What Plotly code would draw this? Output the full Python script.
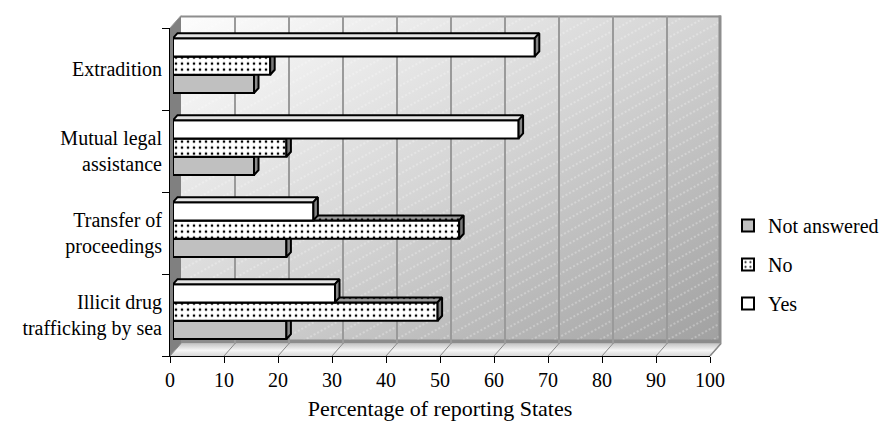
import base64
import plotly.graph_objects as go

# ---------------- data ----------------
categories = ["Extradition", "Mutual legal assistance",
              "Transfer of proceedings", "Illicit drug trafficking by sea"]
tick_labels = ["Extradition", "Mutual legal<br>assistance",
               "Transfer of<br>proceedings", "Illicit drug<br>trafficking by sea"]
not_answered = [15, 15, 21, 21]
no = [18, 21, 53, 49]
yes = [67, 64, 26, 30]
series_names = ["Not answered", "No", "Yes"]
x_ticks = list(range(0, 101, 10))
x_title = "Percentage of reporting States"

# ---------------- geometry (pixels) ----------------
W, H = 885, 424
FONT = "Liberation Serif, Times New Roman, serif"


def px(x):
    return x / W


def py(y):
    return 1 - y / H


FRONT_X = (170, 710)
FRONT_Y = (28, 356)
BACK_DX, BACK_DY = 11, -12.5
BAR_DX, BAR_DY = 3, -3.4
n = len(categories)
band_px = (FRONT_Y[1] - FRONT_Y[0]) / n
unit_px = (FRONT_X[1] - FRONT_X[0]) / 100.0

# bar depth (3D top/side faces) in data units
DEPTH_X = 4.5 / unit_px
DEPTH_Y = 5.0 / band_px
BAR_W = 18.3 / band_px

pos = [n - 1 - i for i in range(n)]  # numeric positions (bottom = 0)

# ---------------- background decoration (walls / floor) ----------------
bx0, by0 = FRONT_X[0] + BACK_DX, FRONT_Y[0] + BACK_DY
bx1, by1 = FRONT_X[1] + BACK_DX, FRONT_Y[1] + BACK_DY
fl_lines = ""
for t in x_ticks:
    xf = FRONT_X[0] + t * unit_px
    fl_lines += (f'<line x1="{xf:.1f}" y1="{FRONT_Y[1]}" x2="{xf + BACK_DX:.1f}" '
                 f'y2="{by1}" stroke="#8a8a8a" stroke-width="1"/>')
svg = f'''<svg xmlns="http://www.w3.org/2000/svg" width="{W}" height="{H}" viewBox="0 0 {W} {H}">
<defs>
<linearGradient id="wall" x1="0" y1="0" x2="1" y2="1">
<stop offset="0" stop-color="#fdfdfd"/><stop offset="0.5" stop-color="#d4d4d4"/><stop offset="1" stop-color="#a0a0a0"/>
</linearGradient>
<linearGradient id="floor" x1="0" y1="0" x2="0" y2="1">
<stop offset="0" stop-color="#c4c4c4"/><stop offset="0.55" stop-color="#f6f6f6"/><stop offset="1" stop-color="#d8d8d8"/>
</linearGradient>
<pattern id="hatch" width="12" height="11" patternUnits="userSpaceOnUse" patternTransform="rotate(-29)">
<line x1="0" y1="5" x2="12" y2="5" stroke="#ffffff" stroke-width="1" stroke-dasharray="2,2" stroke-opacity="0.55"/>
</pattern>
</defs>
<rect x="{bx0}" y="{by0}" width="{bx1 - bx0}" height="{by1 - by0}" fill="url(#wall)"/>
<rect x="{bx0}" y="{by0}" width="{bx1 - bx0}" height="{by1 - by0}" fill="url(#hatch)"/>
<rect x="{bx0}" y="{by1 - 4}" width="{bx1 - bx0}" height="4" fill="#8c8c8c"/>
<line x1="{bx0}" y1="{by0 + 1}" x2="{bx1}" y2="{by0 + 1}" stroke="#8e8e8e" stroke-width="2"/>
<line x1="{bx1 - 1}" y1="{by0}" x2="{bx1 - 1}" y2="{by1}" stroke="#8e8e8e" stroke-width="3"/>
<polygon points="{FRONT_X[0]},{FRONT_Y[0]} {bx0},{by0} {bx0},{by1} {FRONT_X[0]},{FRONT_Y[1]}" fill="#808080"/>
<polygon points="{FRONT_X[0]},{FRONT_Y[1]} {bx0},{by1} {bx1},{by1} {FRONT_X[1]},{FRONT_Y[1]}" fill="url(#floor)"/>
{fl_lines}
<line x1="{FRONT_X[1]}" y1="{FRONT_Y[1]}" x2="{bx1}" y2="{by1}" stroke="#8a8a8a" stroke-width="1.5"/>
<line x1="{FRONT_X[0]}" y1="{FRONT_Y[0]}" x2="{bx0}" y2="{by0}" stroke="#9a9a9a" stroke-width="1"/>
</svg>'''
svg_uri = "data:image/svg+xml;base64," + base64.b64encode(svg.encode()).decode()

fig = go.Figure()

# front axes (category labels and value ticks)
fig.add_trace(go.Scatter(x=[None] * n, y=tick_labels, mode="markers",
                         showlegend=False, hoverinfo="skip", xaxis="x", yaxis="y"))
# back wall grid axes
fig.add_trace(go.Scatter(x=[None], y=[None], mode="markers", showlegend=False,
                         hoverinfo="skip", xaxis="x2", yaxis="y2"))

styles = {
    "Not answered": dict(front="#c0c0c0", top="#b4b4b4", side="#8a8a8a", pattern=None),
    "No": dict(front="#ffffff", top="#9a9a9a", side="#7a7a7a", pattern="."),
    "Yes": dict(front="#ffffff", top="#e4e4e4", side="#858585", pattern=None),
}
series_vals = [not_answered, no, yes]
offsets = [-1.5 * BAR_W, -0.5 * BAR_W, 0.5 * BAR_W]
axis_ids = [("x3", "y3"), ("x4", "y4"), ("x5", "y5")]

for name, vals, off, (xa, ya) in zip(series_names, series_vals, offsets, axis_ids):
    st = styles[name]
    tx, ty, sx, sy = [], [], [], []
    for v, p in zip(vals, pos):
        yb, yt = p + off, p + off + BAR_W
        tx += [0, v, v + DEPTH_X, DEPTH_X, 0, None]
        ty += [yt, yt, yt + DEPTH_Y, yt + DEPTH_Y, yt, None]
        sx += [v, v + DEPTH_X, v + DEPTH_X, v, v, None]
        sy += [yb, yb + DEPTH_Y, yt + DEPTH_Y, yt, yb, None]
    face_pattern = dict(shape=".", fgcolor="#000000", bgcolor=st["top"], size=6,
                        solidity=0.15) if st["pattern"] else None
    fig.add_trace(go.Scatter(x=tx, y=ty, mode="lines", fill="toself",
                             fillcolor=st["top"], fillpattern=face_pattern,
                             line=dict(color="black", width=2), showlegend=False,
                             hoverinfo="skip", xaxis=xa, yaxis=ya))
    fig.add_trace(go.Scatter(x=sx, y=sy, mode="lines", fill="toself",
                             fillcolor=st["side"],
                             line=dict(color="black", width=2), showlegend=False,
                             hoverinfo="skip", xaxis=xa, yaxis=ya))
    marker = dict(color=st["front"], line=dict(color="black", width=2))
    if st["pattern"]:
        marker["pattern"] = dict(shape=".", fgcolor="#000000", bgcolor="#ffffff",
                                 size=6, solidity=0.15)
    fig.add_trace(go.Bar(x=vals, y=pos, orientation="h", width=BAR_W, offset=off,
                         marker=marker, name=name, legendgroup=name,
                         xaxis=xa, yaxis=ya,
                         hovertemplate=name + ": %{x}<extra></extra>"))

bar_xdom = [px(FRONT_X[0] + BAR_DX), px(FRONT_X[1] + BAR_DX)]
bar_ydom = [py(FRONT_Y[1] + BAR_DY), py(FRONT_Y[0] + BAR_DY)]
hidden = dict(visible=False, fixedrange=True)

fig.update_layout(
    width=W, height=H,
    margin=dict(l=0, r=0, t=0, b=0),
    template="none",
    paper_bgcolor="white",
    plot_bgcolor="rgba(0,0,0,0)",
    barmode="overlay",
    font=dict(family=FONT, size=20, color="black"),
    images=[dict(source=svg_uri, xref="paper", yref="paper", x=0, y=1,
                 sizex=1, sizey=1, xanchor="left", yanchor="top",
                 sizing="stretch", layer="below")],
    xaxis=dict(domain=[px(FRONT_X[0]), px(FRONT_X[1])], range=[0, 100],
               tickvals=x_ticks, ticks="outside", ticklen=6, tickwidth=1,
               tickcolor="black", showline=True, linecolor="black", linewidth=1,
               showgrid=False, zeroline=False, anchor="y", automargin=False,
               tickfont=dict(family=FONT, size=20),
               title=dict(text=x_title, font=dict(family=FONT, size=22), standoff=10)),
    yaxis=dict(domain=[py(FRONT_Y[1]), py(FRONT_Y[0])], type="category",
               categoryorder="array", categoryarray=tick_labels[::-1],
               range=[-0.5, n - 0.5], tickson="boundaries", ticks="outside",
               ticklen=7, tickcolor="black", showline=True, linecolor="black",
               linewidth=1, showgrid=False, zeroline=False, anchor="x",
               automargin=False, ticklabelstandoff=3,
               tickfont=dict(family=FONT, size=20)),
    xaxis2=dict(domain=[px(bx0), px(bx1)], range=[0, 100], tickvals=x_ticks,
                showgrid=True, gridcolor="#9a9a9a", gridwidth=2, zeroline=False,
                showticklabels=False, ticks="", showline=False, anchor="y2",
                fixedrange=True),
    yaxis2=dict(domain=[py(by1), py(by0)], range=[0, 1], showgrid=False,
                zeroline=False, showticklabels=False, ticks="", showline=False,
                anchor="x2", fixedrange=True),
    xaxis3=dict(domain=bar_xdom, range=[0, 100], anchor="y3", **hidden),
    yaxis3=dict(domain=bar_ydom, range=[-0.5, n - 0.5], anchor="x3", **hidden),
    xaxis4=dict(range=[0, 100], overlaying="x3", anchor="y4", **hidden),
    yaxis4=dict(range=[-0.5, n - 0.5], overlaying="y3", anchor="x4", **hidden),
    xaxis5=dict(range=[0, 100], overlaying="x3", anchor="y5", **hidden),
    yaxis5=dict(range=[-0.5, n - 0.5], overlaying="y3", anchor="x5", **hidden),
    legend=dict(x=px(728), y=py(206), xanchor="left", yanchor="top",
                traceorder="grouped", tracegroupgap=10, bgcolor="rgba(0,0,0,0)",
                font=dict(family=FONT, size=20)),
    showlegend=True,
)

fig.write_html("out.html")
